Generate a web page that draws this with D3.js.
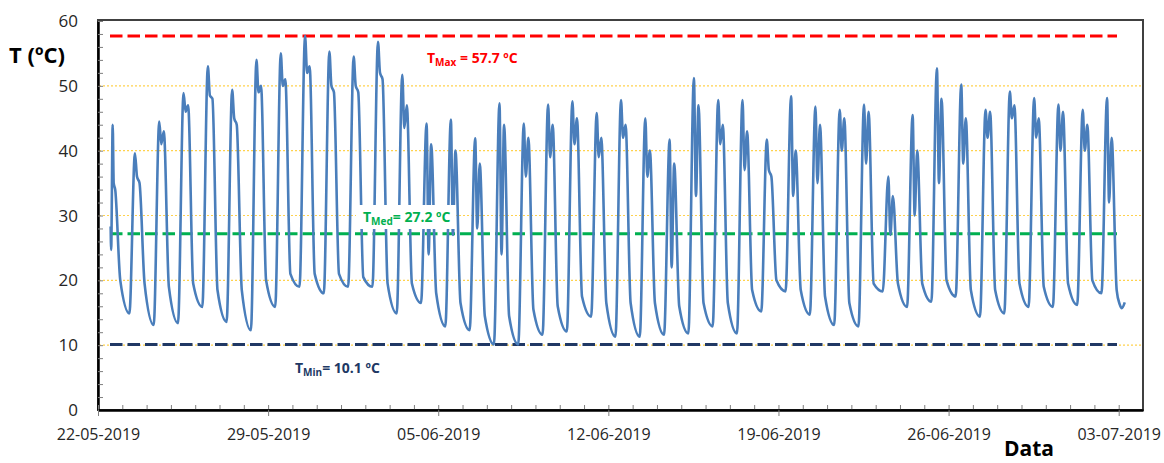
<!DOCTYPE html>
<html>
<head>
<meta charset="utf-8">
<script src="https://cdn.jsdelivr.net/npm/d3@7"></script>
<style>
  body { margin: 0; background: white; }
  text { font-family: "Open Sans", "Liberation Sans", sans-serif; }
</style>
</head>
<body>
<div id="chart"></div>
<script>
// daily readings, day 0 = 22-05-2019
var firstDay = Date.UTC(2019, 4, 22);
var lastDay = Date.UTC(2019, 6, 4);

// morning minimum (~07h), null where the record had not started
var lo = [null, 14.9, 13.1, 13.4, 15.9, 13.6, 12.3, 15.9, 19.0, 18.0, 19.0, 19.0, 14.9, 16.5, 12.9, 12.3, 10.1, 10.1, 11.6, 12.1, 14.4,
  11.3, 11.3, 11.6, 11.8, 12.9, 11.8, 15.2, 18.3, 14.7, 13.1, 12.9, 18.3, 15.9, 16.7, 17.5, 14.4, 14.9, 15.9, 15.9, 16.2, 18.0];
// midday peak (~12h30)
var hi = [44.0, 39.6, 44.5, 48.9, 53.0, 49.4, 54.0, 55.0, 57.7, 55.3, 54.5, 56.8, 51.7, 44.2, 44.8, 41.9, 47.3, 44.2, 47.1, 47.6, 45.8,
  47.8, 45.0, 41.7, 51.2, 47.8, 47.8, 41.7, 48.4, 46.8, 46.3, 47.1, 36.0, 45.5, 52.7, 50.2, 46.3, 49.1, 48.1, 47.1, 46.3, 48.1];
// drop after the peak (~14h30)
var dip = [35, 36, 41, 46, 48.5, 45, 49, 50, 52, 50, 50, 52, 43.5, 24, 27, 28, 24, 36, 39, 41, 39,
  42, 36, 22, 33, 41, 37, 37, 33, 35, 40, 38, 27, 30, 35, 38, 42, 45, 42, 40, 40, 32];
// second top (~17h)
var hi2 = [34, 35, 43, 47, 48, 44, 50, 51, 53, 49, 49, 51, 47, 41, 40, 38, 44, 42, 44, 45, 42,
  44, 40, 38, 47, 44, 43, 36, 40, 44, 45, 46, 33, 40, 48, 45, 46, 47, 45, 46, 44, 42];
// late evening (~22h)
var eve = [20, 19.5, 19, 19.5, 18.5, 18.5, 20, 21, 21, 21, 20.5, 19.5, 19.5, 18, 16.5, 14.5, 14.5, 15.5, 16, 17.5, 16.5,
  16.5, 16.5, 16, 16.5, 16.5, 18.5, 20, 18.5, 17.5, 16.5, 19.5, 19.5, 19.5, 20, 18.5, 18.5, 19.5, 19, 19.5, 20, 18.5];
var hours = { lo: 7, hi: 12.5, dip: 14.5, hi2: 17, eve: 22 };

// first and last readings of the logger
var head = [["2019-05-22T12:30", 28.3], ["2019-05-22T13:00", 24.7]];
var tail = [["2019-07-03T01:00", 16.3], ["2019-07-03T03:00", 15.7], ["2019-07-03T06:00", 16.6]];

var yTicks = [0, 10, 20, 30, 40, 50, 60];
var gridValues = [10, 20, 30, 40, 50];
var refLines = [
  { name: "Max", value: 57.7, color: "#FF0000" },
  { name: "Med", value: 27.2, color: "#00B050" },
  { name: "Min", value: 10.1, color: "#203864" }
];

var width = 1164, height = 463;
var svg = d3.select("#chart").append("svg")
  .attr("width", width)
  .attr("height", height);

var x = d3.scaleUtc().domain([firstDay, lastDay]).range([98, 1143]);
var y = d3.scaleLinear().domain([0, 60]).range([410, 21]);

// build the series
var H = 3600000, D = 24 * H;
var parse = d3.utcParse("%Y-%m-%dT%H:%M");
var series = head.map(function(p) { return { t: parse(p[0]), v: p[1] }; });
for (var d = 0; d < hi.length; d++) {
  var t0 = firstDay + d * D;
  if (lo[d] != null) series.push({ t: new Date(t0 + hours.lo * H), v: lo[d] });
  series.push({ t: new Date(t0 + (d === 0 ? 14.5 : hours.hi) * H), v: hi[d] });
  series.push({ t: new Date(t0 + (d === 0 ? 15.5 : hours.dip) * H), v: dip[d] });
  series.push({ t: new Date(t0 + hours.hi2 * H), v: hi2[d] });
  series.push({ t: new Date(t0 + hours.eve * H), v: eve[d] });
}
tail.forEach(function(p) { series.push({ t: parse(p[0]), v: p[1] }); });

// gridlines
svg.append("g")
  .selectAll("line")
  .data(gridValues)
  .enter().append("line")
    .attr("x1", 99).attr("x2", 1142)
    .attr("y1", function(v) { return y(v); })
    .attr("y2", function(v) { return y(v); })
    .attr("stroke", "#FFD24D")
    .attr("stroke-width", 1.2)
    .attr("stroke-dasharray", "2,2");

// plot frame
svg.append("rect")
  .attr("x", 98).attr("y", 20)
  .attr("width", 1045).attr("height", 390)
  .attr("fill", "none")
  .attr("stroke", "#404040")
  .attr("stroke-width", 2);

// reference lines
svg.append("g")
  .selectAll("line")
  .data(refLines)
  .enter().append("line")
    .attr("x1", 110).attr("x2", 1117)
    .attr("y1", function(r) { return y(r.value); })
    .attr("y2", function(r) { return y(r.value); })
    .attr("stroke", function(r) { return r.color; })
    .attr("stroke-width", 3)
    .attr("stroke-dasharray", "12.5,5");

// temperature line
var line = d3.line()
  .x(function(p) { return x(p.t); })
  .y(function(p) { return y(p.v); })
  .curve(d3.curveMonotoneX);

svg.append("path")
  .datum(series)
  .attr("d", line)
  .attr("fill", "none")
  .attr("stroke", "#4A7EBB")
  .attr("stroke-width", 2.6)
  .attr("stroke-linejoin", "round");

// y axis
var yAxis = d3.axisLeft(y)
  .tickValues(d3.range(0, 61, 2))
  .tickSizeInner(-5)
  .tickSizeOuter(0)
  .tickFormat("");
svg.append("g")
  .attr("transform", "translate(98,0)")
  .call(yAxis)
  .call(function(g) {
    g.select(".domain").attr("stroke", "#000").attr("stroke-width", 2.5);
    g.selectAll(".tick line").attr("stroke", "#7f7f7f");
  });

svg.append("g")
  .selectAll("text")
  .data(yTicks)
  .enter().append("text")
    .attr("x", 78)
    .attr("y", function(v) { return y(v); })
    .attr("dy", "0.36em")
    .attr("text-anchor", "end")
    .attr("font-size", 17)
    .attr("fill", "#262626")
    .text(function(v) { return v; });

// x axis: daily minor ticks inside, weekly ticks outside
var days = d3.utcDay.range(new Date(firstDay), new Date(lastDay));
var weeks = days.filter(function(t, i) { return i % 7 === 0; });

svg.append("g")
  .attr("transform", "translate(0,410)")
  .call(d3.axisBottom(x).tickValues(days).tickSizeInner(-5).tickSizeOuter(0).tickFormat(""))
  .call(function(g) {
    g.select(".domain").remove();
    g.selectAll(".tick line").attr("stroke", "#7f7f7f");
  });

var fmt = d3.utcFormat("%d-%m-%Y");
svg.append("g")
  .attr("transform", "translate(0,410)")
  .call(d3.axisBottom(x).tickValues(weeks).tickSizeInner(6).tickSizeOuter(0).tickPadding(13).tickFormat(fmt))
  .call(function(g) {
    g.select(".domain").attr("stroke", "#000").attr("stroke-width", 2.5);
    g.selectAll(".tick line").attr("stroke", "#7f7f7f");
    g.selectAll(".tick text")
      .attr("font-size", 16)
      .attr("fill", "#262626")
      .attr("font-family", "'Open Sans', sans-serif");
  });

// axis titles
svg.append("text")
  .attr("x", 9).attr("y", 63)
  .attr("font-size", 22)
  .attr("font-weight", "bold")
  .attr("fill", "#000")
  .text("T (ºC)");

svg.append("text")
  .attr("x", 1029).attr("y", 456)
  .attr("text-anchor", "middle")
  .attr("font-size", 21)
  .attr("font-weight", "bold")
  .attr("fill", "#000")
  .text("Data");

// labels for reference lines
var labelPos = { Max: [427, 63], Med: [363, 222], Min: [295, 373] };
svg.append("rect")
  .attr("x", 356).attr("y", 205)
  .attr("width", 100).attr("height", 24)
  .attr("fill", "white");

refLines.forEach(function(r) {
  var t = svg.append("text")
    .attr("x", labelPos[r.name][0])
    .attr("y", labelPos[r.name][1])
    .attr("font-size", 14)
    .attr("font-weight", "bold")
    .attr("fill", r.color);
  t.append("tspan").text("T");
  t.append("tspan").attr("font-size", 10).attr("dy", 3).text(r.name);
  t.append("tspan").attr("dy", -3).text((r.name === "Max" ? " = " : "= ") + r.value.toFixed(1) + " ºC");
});
</script>
</body>
</html>
